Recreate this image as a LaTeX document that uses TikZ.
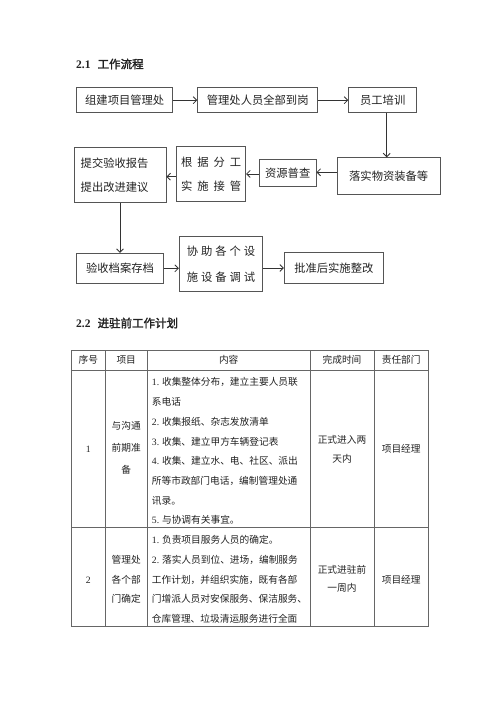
\documentclass[tikz,border=0pt]{standalone}
\usepackage{fontspec}
\usetikzlibrary{arrows.meta}
\newfontfamily\cjk{Noto Sans CJK SC}
\newfontfamily\cjkb[FakeBold=2]{Noto Sans CJK SC}
\newfontfamily\lat{Liberation Serif}
\definecolor{txt}{HTML}{222222}
\definecolor{boxc}{HTML}{555555}
\definecolor{arrc}{HTML}{333333}
\definecolor{gridc}{HTML}{666666}
\newcommand\gapA{\hspace{5pt}}
\newcommand\gapB{\hspace{3pt}}
\newcommand\num[1]{{\lat #1}}
\tikzset{
  box/.style={draw=boxc, line width=0.9pt, inner sep=0pt, text=txt,
    font=\cjk\fontsize{11.3}{13}\selectfont},
  arr/.style={draw=arrc, line width=0.8pt, -{Straight Barb[length=3.5pt,width=7pt]}},
  head/.style={anchor=west, inner sep=0pt, text=txt, font=\cjkb\fontsize{11.5}{13}\selectfont},
  cell/.style={inner sep=0pt, text=txt, font=\cjk\fontsize{9.7}{12}\selectfont},
  lcell/.style={cell, anchor=west},
  grid/.style={draw=gridc, line width=0.9pt}
}
\begin{document}
\begin{tikzpicture}[x=1pt,y=-1pt]
\useasboundingbox[fill=white] (0,0) rectangle (500,707);

% headings
\node[head] (h1) at (76,64) {{\lat\bfseries 2.1}\hspace{7pt}工作流程};
\node[head] (h2) at (76,323) {{\lat\bfseries 2.2}\hspace{7pt}进驻前工作计划};

% flow chart
\node[box, minimum width=96, minimum height=25] (b1) at (124.7,100.2) {组建项目管理处};
\node[box, minimum width=120, minimum height=25] (b2) at (257.7,100.2) {管理处人员全部到岗};
\node[box, minimum width=68, minimum height=25] (b3) at (382.7,100.2) {员工培训};
\node[box, minimum width=102.7, minimum height=36.3] (b4) at (388.7,175.9) {落实物资装备等};
\node[box, minimum width=56.7, minimum height=27.4] (b5) at (287.7,173) {资源普查};
\node[box, minimum width=69, minimum height=55.7, align=center,
  font=\cjk\fontsize{11.3}{24}\selectfont] (b6) at (211.2,173.9)
  {根\gapA 据\gapA 分\gapA 工\\实\gapA 施\gapA 接\gapA 管};
\node[box, minimum height=55.4, align=left, text width=78.6, inner xsep=6.7pt,
  font=\cjk\fontsize{11.3}{24.6}\selectfont] (b7) at (120,175)
  {提交验收报告\\提出改进建议};
\node[box, minimum width=86.6, minimum height=30] (b8) at (120,268.3) {验收档案存档};
\node[box, minimum width=83.4, minimum height=55.7, align=center,
  font=\cjk\fontsize{11.3}{25.6}\selectfont] (b9) at (221,263.9)
  {协\gapB 助\gapB 各\gapB 个\gapB 设\\施\gapB 设\gapB 备\gapB 调\gapB 试};
\node[box, minimum width=99, minimum height=30.6] (b10) at (333.8,268) {批准后实施整改};

\draw[arr] (b1) -- (b2);
\draw[arr] (b2) -- (b3);
\draw[arr] ([xshift=4pt]b3.south) -- ([xshift=-2pt]b4.north);
\draw[arr] ([yshift=3.6pt]b4.west) -- ([yshift=3.6pt]b4.west -| b5.east);
\draw[arr] (b5.west |- b6.east) -- (b6.east);
\draw[arr] ([yshift=-2.8pt]b6.west) -- ([yshift=-2.8pt]b6.west -| b7.east);
\draw[arr] (b7.south) -- (b8.north);
\draw[arr] (b8) -- (b8 -| b9.west);
\draw[arr] (b9.east |- b10.west) -- (b10.west);

% table grid
\coordinate (tl) at (71.7,350);
\coordinate (br) at (428.3,626);
\draw[grid] (tl) rectangle (br);
\draw[grid] (71.7,370) -- (428.3,370);
\draw[grid] (71.7,527.3) -- (428.3,527.3);
\foreach \xx in {105,147.3,310,374} \draw[grid] (\xx,350) -- (\xx,626);

% header
\node[cell] (c01) at (88.3,360) {序号};
\node[cell] (c02) at (126.2,360) {项目};
\node[cell] (c03) at (228.7,360) {内容};
\node[cell] (c04) at (342,360) {完成时间};
\node[cell] (c05) at (401.2,360) {责任部门};

% row 1
\node[cell] (r1a) at (88.3,449) {\num{1}};
\node[cell] (r1b1) at (126.2,426) {与沟通};
\node[cell] (r1b2) at (126.2,448) {前期准};
\node[cell] (r1b3) at (126.2,470) {备};
\node[lcell] (r1c1) at (151.7,382.3) {\num{1.} 收集整体分布，建立主要人员联};
\node[lcell] (r1c2) at (151.7,402) {系电话};
\node[lcell] (r1c3) at (151.7,421.7) {\num{2.} 收集报纸、杂志发放清单};
\node[lcell] (r1c4) at (151.7,441.4) {\num{3.} 收集、建立甲方车辆登记表};
\node[lcell] (r1c5) at (151.7,461.1) {\num{4.} 收集、建立水、电、社区、派出};
\node[lcell] (r1c6) at (151.7,480.8) {所等市政部门电话，编制管理处通};
\node[lcell] (r1c7) at (151.7,500.5) {讯录。};
\node[lcell] (r1c8) at (151.7,520.2) {\num{5.} 与协调有关事宜。};
\node[cell] (r1d1) at (342,439.5) {正式进入两};
\node[cell] (r1d2) at (342,459.3) {天内};
\node[cell] (r1e) at (401.2,449.3) {项目经理};

% row 2
\node[cell] (r2a) at (88.3,580) {\num{2}};
\node[cell] (r2b1) at (126.2,559.3) {管理处};
\node[cell] (r2b2) at (126.2,579.3) {各个部};
\node[cell] (r2b3) at (126.2,599) {门确定};
\node[lcell] (r2c1) at (151.7,540) {\num{1.} 负责项目服务人员的确定。};
\node[lcell] (r2c2) at (151.7,559.7) {\num{2.} 落实人员到位、进场，编制服务};
\node[lcell] (r2c3) at (151.7,579.4) {工作计划，并组织实施，既有各部};
\node[lcell] (r2c4) at (151.7,599.1) {门增派人员对安保服务、保洁服务、};
\node[lcell] (r2c5) at (151.7,618.8) {仓库管理、垃圾清运服务进行全面};
\node[cell] (r2d1) at (342,569.3) {正式进驻前};
\node[cell] (r2d2) at (342,588.3) {一周内};
\node[cell] (r2e) at (401.2,580) {项目经理};
\end{tikzpicture}
\end{document}
